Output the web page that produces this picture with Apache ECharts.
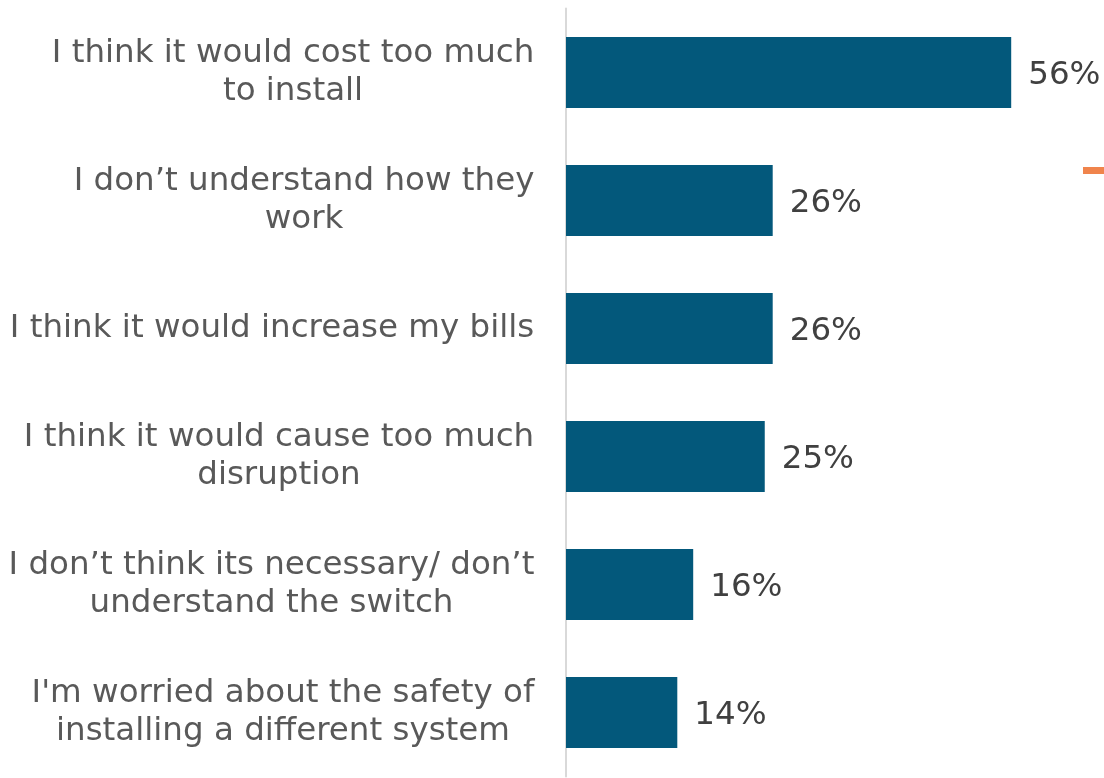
<!DOCTYPE html>
<html><head><meta charset="utf-8">
<script src="https://cdn.jsdelivr.net/npm/echarts@6/dist/echarts.min.js"></script>
<style>html,body{margin:0;padding:0;background:#fff}#c{width:1104px;height:778px}</style>
</head><body><div id="c"></div>
<script>
const categories = [
  "I think it would cost too much\nto install",
  "I don\u2019t understand how they\nwork",
  "I think it would increase my bills",
  "I think it would cause too much\ndisruption",
  "I don\u2019t think its necessary/ don\u2019t\nunderstand the switch",
  "I'm worried about the safety of\ninstalling a different system"
];
const values = [56, 26, 26, 25, 16, 14];

const FONT = 'DejaVu Sans';
const FS = 32.5;
const ctx = document.createElement('canvas').getContext('2d');
ctx.font = FS + 'px "' + FONT + '"';
const rich = {};
categories.forEach((c, i) => {
  const w = Math.max(...c.split('\n').map(l => ctx.measureText(l).width));
  rich['c' + i] = {width: Math.ceil(w) + 1, align: 'center', color: '#595959', fontFamily: FONT, fontSize: FS, lineHeight: 38};
});

const chart = echarts.init(document.getElementById('c'), null, {renderer: 'canvas'});
chart.setOption({
  animation: false,
  grid: {left: 566, top: 8.5, width: 477, height: 768, containLabel: false},
  xAxis: {type: 'value', min: 0, max: 60, show: false},
  yAxis: {
    type: 'category', data: categories, inverse: true,
    axisLine: {show: true, lineStyle: {color: '#d9d9d9', width: 2}},
    axisTick: {show: false},
    axisLabel: {
      margin: 31, align: 'right', color: '#595959', fontFamily: FONT, fontSize: FS, lineHeight: 38,
      formatter: (v, i) => v.split('\n').map(l => '{c' + i + '|' + l + '}').join('\n'),
      rich: rich
    }
  },
  series: [{
    type: 'bar', data: values, barWidth: '55.5%',
    itemStyle: {color: '#03587B'},
    label: {show: true, position: 'right', distance: 17, offset: [0, 3], formatter: '{c}%', color: '#404040', fontFamily: FONT, fontSize: FS}
  }],
  graphic: [{type: 'rect', shape: {x: 1083, y: 167, width: 21, height: 7}, style: {fill: '#F0844C'}}]
});
</script></body></html>
